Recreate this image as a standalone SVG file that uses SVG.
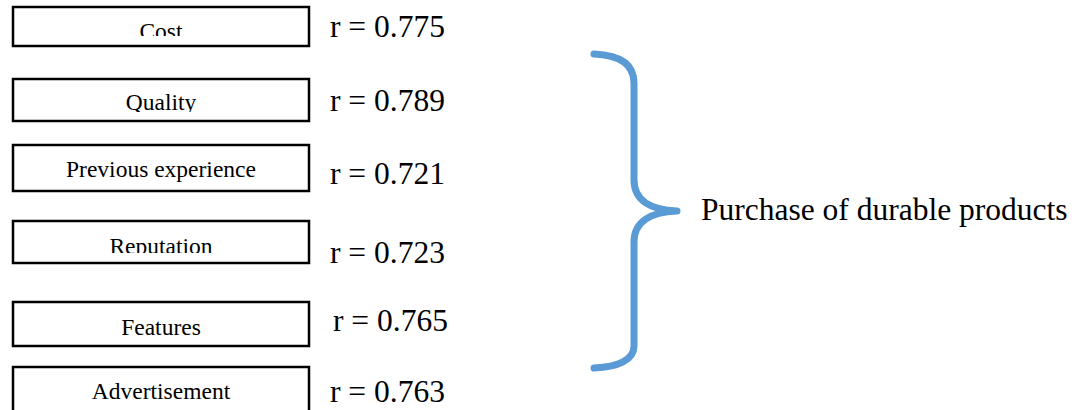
<svg xmlns="http://www.w3.org/2000/svg" width="1074" height="410" viewBox="0 0 1074 410">
<style>
.box{fill:#fff;stroke:#000;stroke-width:2.5}
.lbl{font-family:"Liberation Serif","Times New Roman",serif;font-size:23.5px;fill:#000;text-anchor:middle}
.r{font-family:"Liberation Serif","Times New Roman",serif;font-size:31.5px;fill:#000}
.big{font-family:"Liberation Serif","Times New Roman",serif;font-size:31.5px;fill:#000}
.brace{fill:none;stroke:#5B9BD5;stroke-width:7;stroke-linecap:round;stroke-linejoin:round}
</style>
<defs>
<clipPath id="c1"><rect x="0" y="0" width="330" height="36"/></clipPath>
<clipPath id="c2"><rect x="0" y="70" width="330" height="42"/></clipPath>
<clipPath id="c4"><rect x="0" y="215" width="330" height="38"/></clipPath>
</defs>
<rect width="1074" height="410" fill="#fff"/>
<g id="cost">
<rect class="box" x="13" y="7" width="296" height="39"/>
<text class="lbl" x="161" y="39" clip-path="url(#c1)">Cost</text>
<text class="r" x="330" y="37">r = 0.775</text>
</g>
<g id="quality">
<rect class="box" x="13" y="79" width="296" height="42"/>
<text class="lbl" x="161" y="110" clip-path="url(#c2)">Quality</text>
<text class="r" x="330" y="111">r = 0.789</text>
</g>
<g id="previous">
<rect class="box" x="13" y="145" width="296" height="46"/>
<text class="lbl" x="161" y="177">Previous experience</text>
<text class="r" x="330" y="184">r = 0.721</text>
</g>
<g id="reputation">
<rect class="box" x="13" y="221" width="296" height="42"/>
<text class="lbl" x="161" y="254" clip-path="url(#c4)">Reputation</text>
<text class="r" x="330" y="263">r = 0.723</text>
</g>
<g id="features">
<rect class="box" x="13" y="302" width="296" height="44"/>
<text class="lbl" x="161" y="335">Features</text>
<text class="r" x="333" y="331">r = 0.765</text>
</g>
<g id="advertisement">
<rect class="box" x="13" y="367" width="296" height="60"/>
<text class="lbl" x="161" y="399">Advertisement</text>
<text class="r" x="330" y="402">r = 0.763</text>
</g>
<g id="connectors">
<path class="brace" d="M594,54 C618,55 634,63 634,83 L634,180 C634,200 650,210 677,211 C650,212 634,222 634,242 L634,346 C634,360 618,367 594,368"/>
</g>
<g id="outcome">
<text class="big" x="701" y="220">Purchase of durable products</text>
</g>
</svg>
